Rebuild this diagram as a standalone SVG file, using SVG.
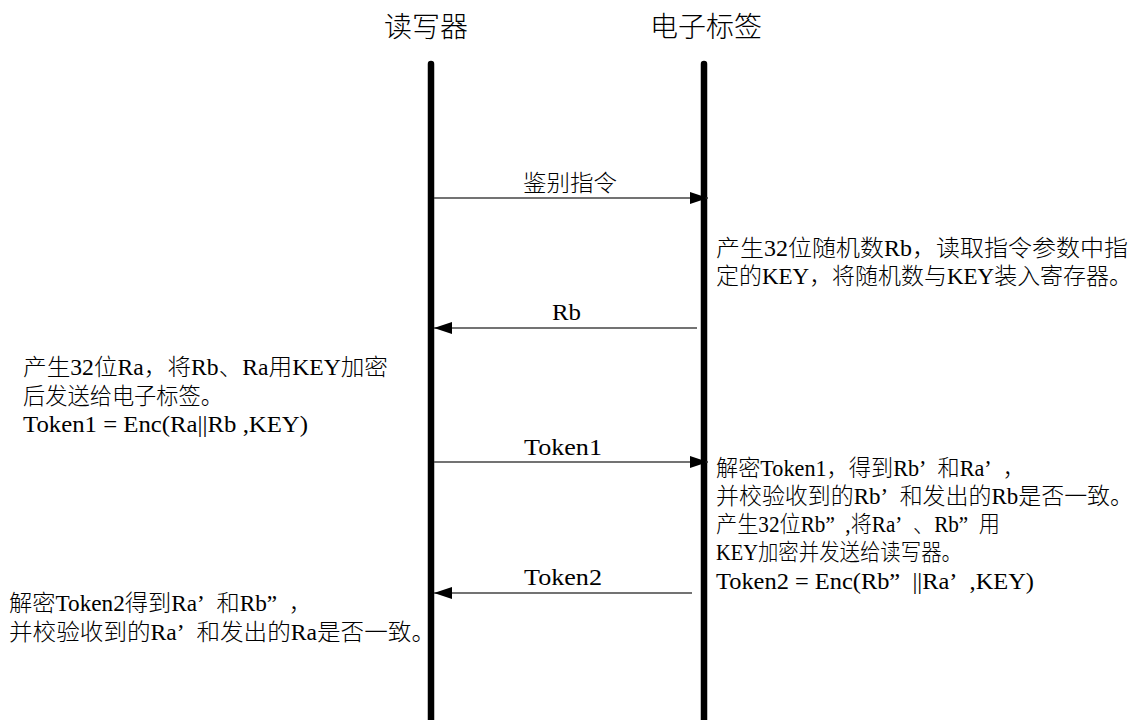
<svg xmlns="http://www.w3.org/2000/svg" width="1139" height="720" viewBox="0 0 1139 720">
<style>
text{font-family:"Liberation Serif","Noto Sans CJK SC",serif;font-size:23px;font-weight:300;fill:#000}
.hd{font-size:28px;text-anchor:middle;font-family:"Noto Sans CJK SC","Liberation Serif",sans-serif}
.life{stroke:#000;stroke-width:6.5;stroke-linecap:round;fill:none}
.msg{stroke:#444;stroke-width:1.3;fill:none}
</style>
<defs>
<marker id="ah" viewBox="0 0 18 12" refX="18" refY="6" markerWidth="18" markerHeight="12" markerUnits="userSpaceOnUse" orient="auto">
<path d="M0,0 L18,6 L0,12 Z" fill="#000"/>
</marker>
</defs>
<rect width="1139" height="720" fill="#fff"/>
<g id="reader">
<text class="hd" x="426" y="37">读写器</text>
<line class="life" x1="431" y1="64" x2="431" y2="725"/>
</g>
<g id="tag">
<text class="hd" x="706" y="37">电子标签</text>
<line class="life" x1="704" y1="64" x2="704" y2="725"/>
</g>
<g id="connectors">
<line class="msg" x1="434" y1="198" x2="708" y2="198" marker-end="url(#ah)"/>
<text x="523" y="191" textLength="94" lengthAdjust="spacingAndGlyphs">鉴别指令</text>
<line class="msg" x1="697" y1="328" x2="434" y2="328" marker-end="url(#ah)"/>
<text x="552" y="320" textLength="29" lengthAdjust="spacingAndGlyphs">Rb</text>
<line class="msg" x1="434" y1="462" x2="708" y2="462" marker-end="url(#ah)"/>
<text x="524" y="455" textLength="78" lengthAdjust="spacingAndGlyphs">Token1</text>
<line class="msg" x1="692" y1="593" x2="434" y2="593" marker-end="url(#ah)"/>
<text x="524" y="585" textLength="78" lengthAdjust="spacingAndGlyphs">Token2</text>
</g>
<g id="note-tag-1">
<text x="716" y="256" textLength="412" lengthAdjust="spacingAndGlyphs">产生32位随机数Rb，读取指令参数中指</text>
<text x="716" y="284" textLength="416" lengthAdjust="spacingAndGlyphs">定的KEY，将随机数与KEY装入寄存器。</text>
</g>
<g id="note-reader-1">
<text x="23" y="375" textLength="365" lengthAdjust="spacingAndGlyphs">产生32位Ra，将Rb、Ra用KEY加密</text>
<text x="23" y="404" textLength="200" lengthAdjust="spacingAndGlyphs">后发送给电子标签。</text>
<text x="23" y="432" textLength="285" lengthAdjust="spacingAndGlyphs">Token1 = Enc(Ra||Rb ,KEY)</text>
</g>
<g id="note-tag-2">
<text x="716" y="476" textLength="309" lengthAdjust="spacingAndGlyphs">解密Token1，得到Rb’&#8194;和Ra’&#8194;，</text>
<text x="716" y="504" textLength="417" lengthAdjust="spacingAndGlyphs">并校验收到的Rb’&#8194;和发出的Rb是否一致。</text>
<text x="716" y="532" textLength="284" lengthAdjust="spacingAndGlyphs">产生32位Rb”&#8194;,将Ra’&#8194;、Rb”&#8194;用</text>
<text x="716" y="560" textLength="246" lengthAdjust="spacingAndGlyphs">KEY加密并发送给读写器。</text>
<text x="716" y="589" textLength="318" lengthAdjust="spacingAndGlyphs">Token2 = Enc(Rb”&#8194;||Ra’&#8194;,KEY)</text>
</g>
<g id="note-reader-2">
<text x="9" y="611" textLength="303" lengthAdjust="spacingAndGlyphs">解密Token2得到Ra’&#8194;和Rb”&#8194;，</text>
<text x="9" y="640" textLength="426" lengthAdjust="spacingAndGlyphs">并校验收到的Ra’&#8194;和发出的Ra是否一致。</text>
</g>
</svg>
